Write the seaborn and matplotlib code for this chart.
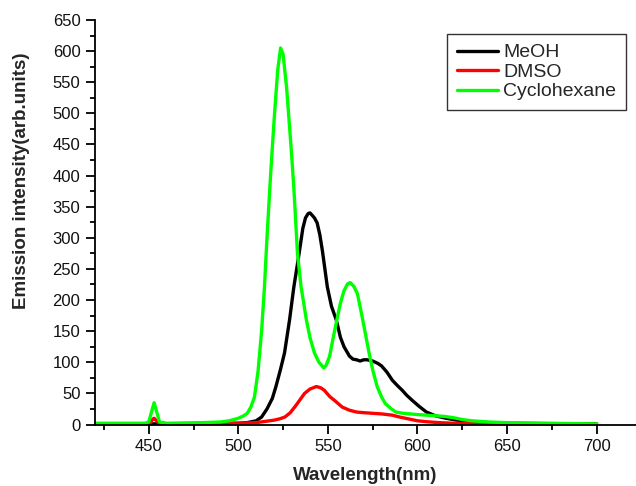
import numpy as np
import pandas as pd
import seaborn as sns
import matplotlib
matplotlib.use("Agg")
import matplotlib.pyplot as plt
from matplotlib.ticker import MultipleLocator

# ---- data ----
meoh_x = [420, 450, 500, 505, 510, 513, 516, 519, 521, 523.5, 525.8, 528.6, 531, 534, 536, 537.5,
          539, 540, 541, 542.5, 544, 545.5, 547, 549.7, 552, 554.7, 557, 559, 562, 564, 566, 568,
          570, 572, 575, 578, 580, 583, 586, 589, 591.5, 594, 597, 601, 605, 610, 616, 622, 629,
          640, 650, 670, 700]
meoh_y = [1, 1, 2, 3, 6, 12, 25, 42, 61, 88, 115, 168, 221, 276, 315, 332,
          339, 340, 337, 332, 324, 305, 278, 221, 190, 168, 140, 125, 110, 105, 104, 102,
          104, 104, 102, 98, 94, 84, 71, 62, 55, 47, 39, 29, 20, 14, 10, 7, 4.5,
          3, 2, 1.5, 1]

dmso_x = [420, 448, 451, 452, 453, 454, 456, 460, 500, 510, 515, 520, 523, 526, 529, 532, 535,
          537, 540, 543.6, 546, 548, 551, 554, 558, 562, 566, 570, 575, 580, 586, 590, 595, 600,
          605, 612, 620, 640, 700]
dmso_y = [1, 1, 3, 8, 10, 7, 2, 1, 2, 3, 5, 7, 9, 12, 19, 30, 42,
          50, 57, 61, 59, 55, 45, 38, 28, 23, 20, 19, 18, 17, 15, 12, 9, 6,
          4.5, 3, 2, 1, 0.5]

cyclo_x = [420, 440, 448, 450, 452, 453, 454, 456, 460, 480, 490, 495, 500, 503, 505, 507, 509,
           511, 513, 514.6, 516, 518, 520, 522, 523.6, 525, 527, 529.7, 531, 533, 535, 538, 540,
           542.5, 545, 547.7, 549, 551, 553, 555, 557, 559, 561, 562.5, 564.5, 566.5, 569, 571,
           573, 575, 577.5, 580, 582, 585, 588, 592, 596, 600, 605, 610, 615, 620, 625, 630,
           640, 650, 670, 700]
cyclo_y = [2, 2, 2, 4, 25, 35, 25, 4, 2, 3, 4, 6, 10, 14, 18, 28, 44,
           85, 150, 221, 300, 400, 490, 570, 605, 595, 540, 436, 380, 276, 222, 168, 140,
           115, 100, 91, 95, 110, 140, 168, 195, 215, 226, 228, 222, 210, 175, 145,
           115, 88, 61, 44, 34, 26, 20, 18, 17, 16, 15, 14, 13, 11, 8, 6,
           4, 3, 2, 1]

series_names = ["MeOH", "DMSO", "Cyclohexane"]
series_colors = ["#000000", "#ff0000", "#00ff00"]

x_ticks = [450, 500, 550, 600, 650, 700]
y_ticks = list(range(0, 651, 50))

# ---- plotting ----
sns.set_style("ticks")
plt.rcParams["font.family"] = ["Liberation Sans", "DejaVu Sans"]

fig = plt.figure(figsize=(6.36, 4.86), dpi=100)
ax = fig.add_axes([95 / 636, 1 - 424.5 / 486, (636 - 95) / 636, (424.5 - 20) / 486])

data = [(meoh_x, meoh_y), (dmso_x, dmso_y), (cyclo_x, cyclo_y)]
for (xs, ys), name, col in zip(data, series_names, series_colors):
    df = pd.DataFrame({"x": xs, "y": ys})
    sns.lineplot(data=df, x="x", y="y", ax=ax, color=col, linewidth=2.4,
                 label=name, sort=False, estimator=None)

ax.set_xlim(420, 722)
ax.set_ylim(0, 650)
ax.set_xticks(x_ticks)
ax.set_yticks(y_ticks)
ax.xaxis.set_minor_locator(MultipleLocator(25))
ax.yaxis.set_minor_locator(MultipleLocator(25))
ax.tick_params(axis="both", which="major", direction="out", length=6.5, width=1.3,
               labelsize=12, pad=4, color="black", labelcolor="#111111")
ax.tick_params(axis="both", which="minor", direction="out", length=3.5, width=1.3,
               color="black")

for s in ["top", "right"]:
    ax.spines[s].set_visible(False)
for s in ["left", "bottom"]:
    ax.spines[s].set_linewidth(1.3)
    ax.spines[s].set_color("black")

ax.set_xlabel("Wavelength(nm)", fontsize=13.5, fontweight="bold", labelpad=9)
ax.set_ylabel("Emission intensity(arb.units)", fontsize=13.5, fontweight="bold")
ax.yaxis.set_label_coords(-0.12, 0.602)

leg = ax.legend(loc="upper left", bbox_to_anchor=(447 / 636, 1 - 34 / 486),
                bbox_transform=fig.transFigure, fontsize=14, frameon=True,
                fancybox=False, handlelength=2.1, handletextpad=0.3,
                borderpad=0.5, labelspacing=0.1, borderaxespad=0)
leg.get_frame().set_edgecolor("black")
leg.get_frame().set_linewidth(1.0)
for line in leg.get_lines():
    line.set_linewidth(2.4)

fig.savefig("out.png", dpi=100)
